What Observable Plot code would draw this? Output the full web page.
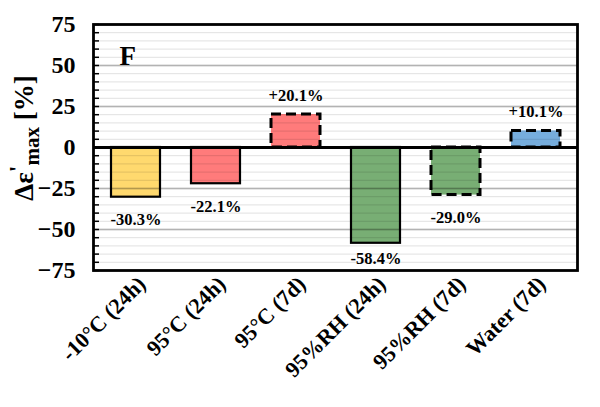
<!DOCTYPE html>
<html><head><meta charset="utf-8">
<script src="https://cdn.jsdelivr.net/npm/d3@7"></script>
<script src="https://cdn.jsdelivr.net/npm/@observablehq/plot@0.6"></script>
<style>body{margin:0;background:#fff}</style>
</head><body><div id="chart"></div>
<script>
const categories = ["-10°C (24h)", "95°C (24h)", "95°C (7d)", "95%RH (24h)", "95%RH (7d)", "Water (7d)"];
const values = [-30.3, -22.1, 20.1, -58.4, -29.0, 10.1];
const valueLabels = ["-30.3%", "-22.1%", "+20.1%", "-58.4%", "-29.0%", "+10.1%"];
const colors = ["#FFD96E", "#FF7B7B", "#FF7B7B", "#78AE74", "#78AE74", "#76ADDD"];
const dashed = [false, false, true, false, true, true];
const yTicks = [-75, -50, -25, 0, 25, 50, 75];
const panelLabel = "F";

const data = categories.map((c, i) => ({cat: c, value: values[i], label: valueLabels[i], color: colors[i], dashed: dashed[i]}));
const minor = d3.range(-75, 76, 5);
const major = [-50, -25, 25, 50];
const serif = "'Liberation Serif', 'Times New Roman', serif";

const chart = Plot.plot({
  width: 600, height: 407,
  marginLeft: 93, marginRight: 23, marginTop: 24, marginBottom: 137,
  style: {fontFamily: serif, background: "#fff", color: "#000"},
  x: {domain: categories, paddingInner: 0.39, paddingOuter: 0.195, label: null},
  y: {domain: [-75, 75], label: null},
  marks: [
    Plot.barY(data.filter(d => !d.dashed), {x: "cat", y: "value", fill: "color", stroke: "#000", strokeWidth: 2.2}),
    Plot.barY(data.filter(d => d.dashed), {x: "cat", y: "value", fill: "color", stroke: "#000", strokeWidth: 3, strokeDasharray: "10,5"}),
    Plot.ruleY(minor, {stroke: "#000", strokeOpacity: 0.12, strokeWidth: 1}),
    Plot.ruleY(major, {stroke: "#000", strokeOpacity: 0.2, strokeWidth: 2.2}),
    Plot.axisY(minor, {tickSize: 6, dx: 6, text: null, strokeWidth: 1.5, label: null}),
    Plot.axisY(yTicks, {tickSize: 0, tickPadding: 18, fontSize: 24, fontWeight: "bold", fill: "#000", label: null}),
    Plot.axisX({tickSize: 0, tickPadding: 10, dx: 6, tickRotate: -45, fontSize: 22, fontWeight: "bold", fill: "#000", label: null}),
    Plot.ruleY([0], {stroke: "#000", strokeWidth: 3}),
    Plot.frame({stroke: "#000", strokeWidth: 2.8}),
    Plot.text(data.filter(d => d.value > 0), {x: "cat", y: "value", text: "label", dy: -19, fontSize: 16.5, fontWeight: "bold", fill: "#000"}),
    Plot.text(data.filter(d => d.value < 0 && d.value > -50), {x: "cat", y: "value", text: "label", dy: 23, fontSize: 16.5, fontWeight: "bold", fill: "#000"}),
    Plot.text(data.filter(d => d.value <= -50), {x: "cat", y: "value", text: "label", dy: 15, fontSize: 16.5, fontWeight: "bold", fill: "#000"}),
    Plot.text([panelLabel], {frameAnchor: "top-left", dx: 26, dy: 21, fontSize: 27, fontWeight: "bold", fill: "#000", textAnchor: "start"})
  ]
});

// y-axis title with prime and subscript
const svg = d3.select(chart);
const t = svg.append("text")
  .attr("transform", "translate(33,138) rotate(-90)")
  .attr("text-anchor", "middle")
  .attr("font-family", serif)
  .attr("font-weight", "bold")
  .attr("font-size", 27)
  .attr("fill", "#000");
t.append("tspan").text("Δε");
t.append("tspan").attr("dy", -8).attr("font-size", 24).text("'");
t.append("tspan").attr("dy", 14).attr("font-size", 21).text("max");
t.append("tspan").attr("dy", -6).text(" [%]");

document.getElementById("chart").appendChild(chart);
</script>
</body></html>
